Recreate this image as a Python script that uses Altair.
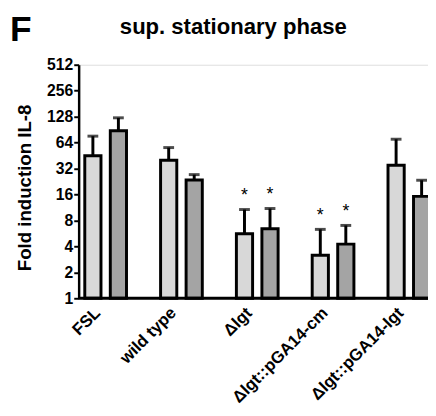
import altair as alt
import pandas as pd

groups = ["FSL", "wild type", "\u0394lgt", "\u0394lgt::pGA14-cm", "\u0394lgt::pGA14-lgt"]
series_names = ["series 1", "series 2"]
light_mean = [45, 40, 5.6, 3.15, 35]
light_upper = [76, 56, 10.7, 6.3, 70]
dark_mean = [88, 23.5, 6.4, 4.25, 15.2]
dark_upper = [124, 27.2, 11.0, 7.0, 23.4]
light_star = [False, False, True, True, False]
dark_star = [False, False, True, True, False]
y_ticks = [1, 2, 4, 8, 16, 32, 64, 128, 256, 512]

rows = []
for i, g in enumerate(groups):
    rows.append({"group": g, "series": series_names[0], "value": light_mean[i],
                 "upper": light_upper[i], "star": light_star[i]})
    rows.append({"group": g, "series": series_names[1], "value": dark_mean[i],
                 "upper": dark_upper[i], "star": dark_star[i]})
df = pd.DataFrame(rows)

FONT = "Liberation Sans"
YT = "Fold induction IL-8"

x_enc = alt.X(
    "group:N", sort=groups,
    scale=alt.Scale(range=[-11.125, 375.125], paddingInner=0, paddingOuter=0),
    axis=alt.Axis(title=None, labelAngle=-45, labelAlign="right", labelBaseline="middle",
                  labelFontSize=17, labelFontWeight="bold", labelColor="black",
                  labelOffset=-8, labelPadding=12, ticks=False, domain=False,
                  labelFont=FONT),
)
xo_enc = alt.XOffset("series:N", sort=series_names,
                     scale=alt.Scale(paddingInner=0.365, paddingOuter=0.668))
y_scale = alt.Scale(type="log", base=2, domain=[1, 512])
y_axis = alt.Axis(values=y_ticks, format="d", grid=False,
                  domainColor="black", domainWidth=2.5, tickColor="black", tickWidth=2,
                  tickSize=5, labelFontSize=16, labelFontWeight="bold", labelColor="black",
                  labelPadding=1, labelFont=FONT, titleFont=FONT, titleFontSize=19,
                  titleFontWeight="bold", titleColor="black", titleX=-49, titleY=125,
                  titleAlign="center", titleBaseline="alphabetic", titleAngle=270)

base = alt.Chart(df)

err = base.mark_rule(color="black", strokeWidth=3).encode(
    x=x_enc, xOffset=xo_enc,
    y=alt.Y("value:Q", scale=y_scale, axis=y_axis, title=YT),
    y2="upper:Q",
)
cap = base.mark_tick(color="black", thickness=3, size=11).encode(
    x=x_enc, xOffset=xo_enc,
    y=alt.Y("upper:Q", title=YT),
)
bars = base.mark_bar(stroke="black", strokeWidth=3).encode(
    x=x_enc, xOffset=xo_enc,
    y=alt.Y("value:Q", title=YT),
    y2=alt.datum(1),
    color=alt.Color("series:N", scale=alt.Scale(domain=series_names,
                                                range=["#d8d8d8", "#a4a4a4"]), legend=None),
)
stars = base.transform_filter("datum.star").mark_text(
    text="*", fontSize=18, dy=-9, baseline="alphabetic", color="black", font=FONT
).encode(
    x=x_enc, xOffset=xo_enc,
    y=alt.Y("upper:Q", title=YT),
)
baseline = alt.Chart(pd.DataFrame({"base": [1]})).mark_rule(
    color="black", strokeWidth=3).encode(y=alt.Y("base:Q", title=YT))

letter = alt.Chart(pd.DataFrame({"t": ["F"]})).mark_text(
    fontSize=36, fontWeight="bold", align="left", baseline="alphabetic",
    color="black", font=FONT
).encode(text="t:N", x=alt.value(-70), y=alt.value(-24))

chart = alt.layer(err, cap, bars, stars, baseline, letter).properties(
    width=356, height=238,
    autosize=alt.AutoSizeParams(type="none"),
    padding={"left": 72, "top": 54, "right": 0, "bottom": 108},
    title=alt.TitleParams("sup. stationary phase", font=FONT, fontSize=22.5,
                          fontWeight="bold", color="black", anchor="start", dx=112,
                          baseline="alphabetic", offset=0, dy=44),
).configure_view(stroke=None).configure(font=FONT)

chart.save("out.html", embed_options={"renderer": "svg", "actions": False})
